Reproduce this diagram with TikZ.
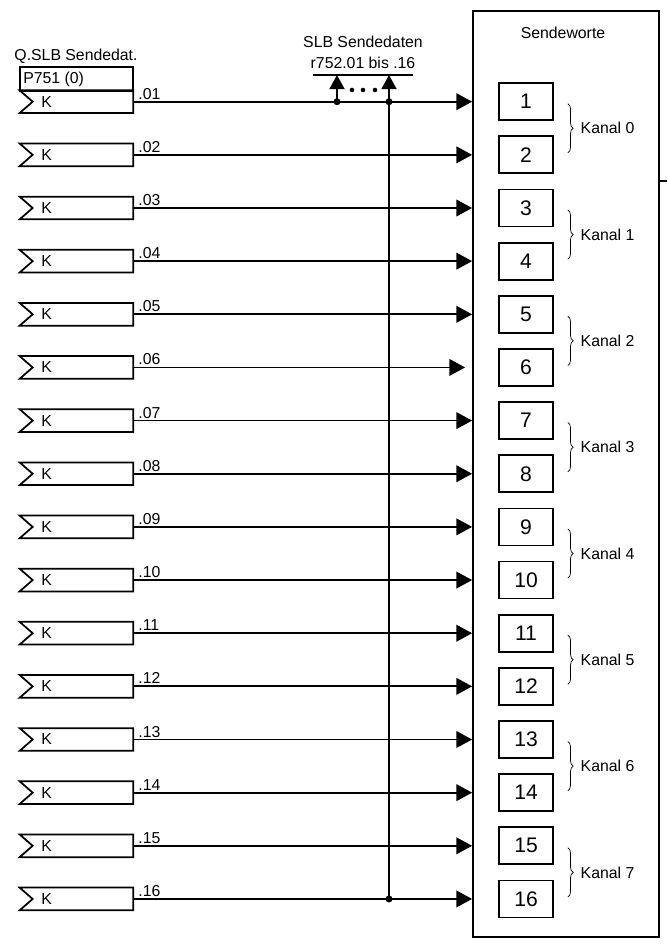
\documentclass[tikz,border=0pt]{standalone}
\usepackage{fontspec}
\setmainfont{Liberation Sans}
\usetikzlibrary{arrows.meta,fit,decorations.pathreplacing}

\tikzset{
  wire/.style={line width=1pt},
  feed/.style={wire, -{Triangle[length=9pt,width=9.5pt]}},
  wordbox/.style={draw, line width=1pt, minimum width=1.08cm, minimum height=0.74cm,
                  inner sep=0pt, font=\fontsize{12}{13}\selectfont},
  srcbox/.style={minimum width=2.26cm, minimum height=0.44cm, inner sep=0pt},
  txt/.style={font=\fontsize{9}{10}\selectfont, inner sep=0pt},
  small/.style={font=\fontsize{9}{10}\selectfont, inner sep=0pt},
  chan/.style={decorate, decoration={brace, amplitude=3pt}, line width=0.4pt}
}

\begin{document}
\begin{tikzpicture}[x=0.02cm, y=-0.02cm]
    \useasboundingbox (0,0) rectangle (667,945);

    % Receiving block
    \node[fit={(473,11) (659,937)}, draw, line width=1pt, inner sep=0pt] (words) {};
    \node[txt] (wordstitle) at (563,33) {Sendeworte};
    \draw[wire] (659,181) -- (667,181);

    % Header of first source
    \node[txt] (srctitle) at (76,56) {Q.SLB Sendedat.};
    \draw[wire] (20,67) rectangle (133,91);
    \node[txt, anchor=west] (par) at (23,79) {P751 (0)};

    % Sources, feeds and words
    \foreach \i in {1,...,16} {
        \pgfmathsetmacro\yy{101.7+(\i-1)*53.15}
        \node[srcbox] (in\i) at (76.5,\yy) {};
        \draw[wire] (in\i.north west) -- (in\i.north east) -- (in\i.south east)
            -- (in\i.south west) -- ([xshift=0.26cm]in\i.west) -- cycle;
        \node[small, anchor=west] (k\i) at (41,\yy) {K};
        \node[small, anchor=base west] (lab\i) at (138,\yy-2.5)
            {\ifnum\i<10 .0\i\else .\i\fi};
        \node[wordbox] (w\i) at (526,\yy) {\i};
        \coordinate (j\i) at (389,\yy);
        \ifnum\i=6
            \draw[feed] (in\i.east) -- ([xshift=-0.14cm]in\i.east -| words.west);
        \else
            \draw[feed] (in\i.east) -- (in\i.east -| words.west);
        \fi
    }

    % Channels
    \foreach \k in {0,...,7} {
        \pgfmathtruncatemacro\a{2*\k+1}
        \pgfmathtruncatemacro\b{2*\k+2}
        \draw[chan] ([xshift=0.28cm,yshift=-0.04cm]w\a.center -| w\a.east)
            -- ([xshift=0.28cm,yshift=0.04cm]w\b.center -| w\b.east)
            coordinate[midway] (c\k);
        \node[txt, anchor=west] (kan\k) at ([xshift=0.25cm]c\k) {Kanal \k};
    }

    % Data bus
    \node[txt] (bustitle) at (363,42) {SLB Sendedaten};
    \node[txt] (busrange) at (363,63) {r752.01 bis .16};
    \draw[line width=0.6pt] (313,75) -- (413,75);
    \coordinate (busL) at (337,75);
    \coordinate (busR) at (389,75);
    \coordinate (tap) at (337,101.7);
    \draw[wire, -{Triangle[length=8pt,width=8.5pt]}] (j16) -- (busR);
    \draw[wire, -{Triangle[length=8pt,width=8.5pt]}] (tap) -- (busL);
    \fill (tap) circle (3.5);
    \fill (j1) circle (3.5);
    \fill (j16) circle (3.5);
    \foreach \x in {352,363,375} {
        \fill (\x,90) circle (2.3);
    }
\end{tikzpicture}
\end{document}
